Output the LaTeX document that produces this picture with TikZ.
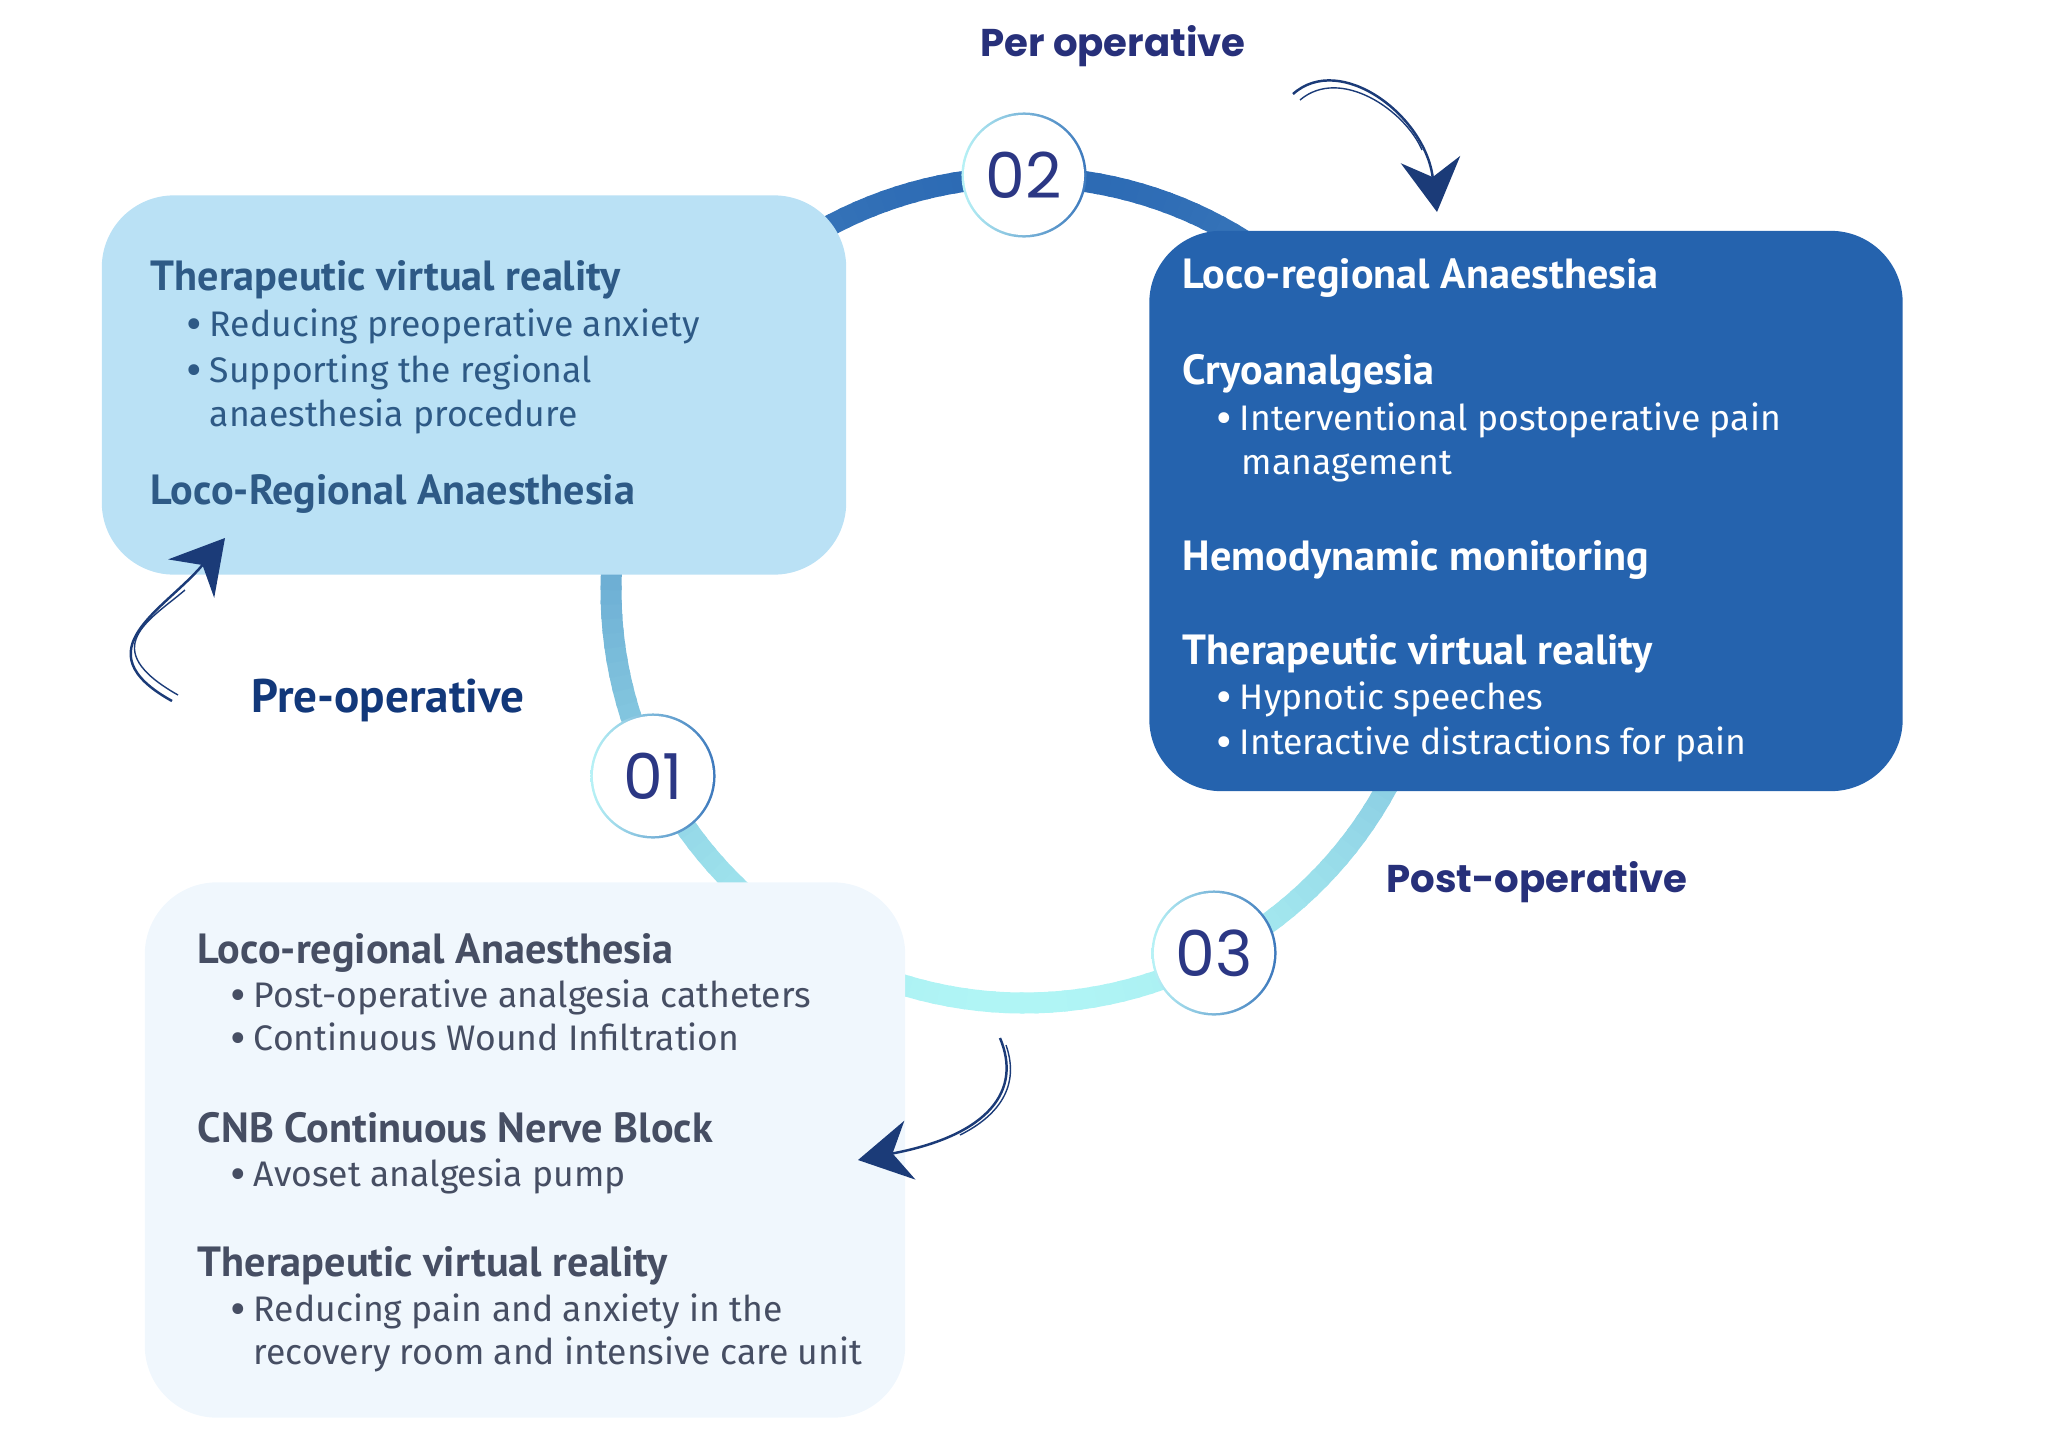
\documentclass[tikz,border=0pt]{standalone}
\usepackage{fontspec}
\setmainfont{Fira Sans}
\newfontfamily\headfont{PT Sans}
\newfontfamily\popfont{Poppins}
\usetikzlibrary{arrows.meta}

\definecolor{ringdark}{HTML}{2C6AB4}
\definecolor{ringlight}{HTML}{B0F5F5}
\definecolor{prefill}{HTML}{BAE1F5}
\definecolor{pretext}{HTML}{2E5A86}
\definecolor{perfill}{HTML}{2563AE}
\definecolor{postfill}{HTML}{F0F7FD}
\definecolor{posttext}{HTML}{464E63}
\definecolor{numtext}{HTML}{2B3784}
\definecolor{phasec}{HTML}{27307A}
\definecolor{prephase}{HTML}{12387A}
\definecolor{scribc}{HTML}{1B3B78}
\definecolor{numA}{HTML}{B8F2F6}
\definecolor{numB}{HTML}{3C78BC}

\newcommand{\bul}{\makebox[6.6pt][l]{\raisebox{-1.3pt}{\scalebox{1.35}{\textbullet}}}}

\tikzset{
  box/.style={rectangle, rounded corners=0.72cm, inner sep=0pt},
  hd/.style={anchor=base west, inner sep=0pt, font=\headfont\bfseries\fontsize{12}{14}\selectfont},
  itm/.style={anchor=base west, inner sep=0pt, font=\fontsize{10.1}{12}\selectfont},
  numring/.style={circle, minimum size=1.25cm, inner sep=0pt, left color=numA, right color=numB},
  numdisk/.style={circle, fill=white, minimum size=1.2cm, inner sep=0pt, text=numtext, font=\popfont\fontsize{18}{20}\selectfont},
  phase/.style={inner sep=0pt, text=phasec, font=\popfont\bfseries\fontsize{11}{13}\selectfont},
  scribble/.style={draw=scribc, line width=0.7pt, -{Stealth[length=15pt, width=17pt, inset=5pt]}},
}

\begin{document}
\begin{tikzpicture}[x=0.01cm, y=-0.01cm]
    \useasboundingbox (0,0) rectangle (2048,1448);

    % ring
    \coordinate (ctr) at (1024,590);
    \foreach \a in {0,2,...,358}{
      \pgfmathsetmacro{\t}{50*(1+sin(\a))}
      \draw[line width=0.21cm, draw=ringlight!\t!ringdark] ([shift={(\a:413)}]ctr) arc[start angle=\a, delta angle=2.6, radius=413];
    }

    % boxes
    \node[box, fill=prefill, minimum width=7.44cm, minimum height=3.79cm] (pre) at (474,385) {};
    \node[box, fill=perfill, minimum width=7.53cm, minimum height=5.60cm] (per) at (1526,511) {};
    \node[box, fill=postfill, minimum width=7.60cm, minimum height=5.35cm] (post) at (525,1150) {};

    % pre-operative box
    \node[hd, text=pretext] (pre1) at (150,290) {Therapeutic virtual reality};
    \node[itm, text=pretext] (pre2) at (186,336) {\bul Reducing preoperative anxiety};
    \node[itm, text=pretext] (pre3) at (186,382) {\bul Supporting the regional};
    \node[itm, text=pretext] (pre4) at (209,426) {anaesthesia procedure};
    \node[hd, text=pretext] (pre5) at (150,504) {Loco-Regional Anaesthesia};

    % per operative box
    \node[hd, text=white] (per1) at (1182,288) {Loco-regional Anaesthesia};
    \node[hd, text=white] (per2) at (1182,384) {Cryoanalgesia};
    \node[itm, text=white] (per3) at (1216,430) {\bul Interventional postoperative pain};
    \node[itm, text=white] (per4) at (1241,474) {management};
    \node[hd, text=white] (per5) at (1182,570) {Hemodynamic monitoring};
    \node[hd, text=white] (per6) at (1182,664) {Therapeutic virtual reality};
    \node[itm, text=white] (per7) at (1216,709) {\bul Hypnotic speeches};
    \node[itm, text=white] (per8) at (1216,754) {\bul Interactive distractions for pain};

    % post-operative box
    \node[hd, text=posttext] (post1) at (197,963) {Loco-regional Anaesthesia};
    \node[itm, text=posttext] (post2) at (230,1007) {\bul Post-operative analgesia catheters};
    \node[itm, text=posttext] (post3) at (230,1050) {\bul Continuous Wound Infiltration};
    \node[hd, text=posttext] (post4) at (197,1142) {CNB Continuous Nerve Block};
    \node[itm, text=posttext] (post5) at (230,1186) {\bul Avoset analgesia pump};
    \node[hd, text=posttext] (post6) at (197,1276) {Therapeutic virtual reality};
    \node[itm, text=posttext] (post7) at (230,1321) {\bul Reducing pain and anxiety in the};
    \node[itm, text=posttext] (post8) at (253,1364) {recovery room and intensive care unit};

    % step numbers
    \node[numring] (r1) at (653,776) {};
    \node[numdisk] (n1) at (r1) {01};
    \node[numring] (r2) at (1024,175) {};
    \node[numdisk] (n2) at (r2) {02};
    \node[numring] (r3) at (1214,953) {};
    \node[numdisk] (n3) at (r3) {03};

    % phase labels
    \node[phase] (lper) at (1113,46) {Per operative};
    \node[phase, text=prephase, font=\headfont\bfseries\fontsize{13.4}{15}\selectfont] (lpre) at (388,700) {Pre-operative};
    \node[phase] (lpost) at (1537,882) {Post-operative};

    % sketchy arrows
    \coordinate (a1s) at (172,701);
    \coordinate (a1e) at (225,538);
    \draw[scribble] (a1s) .. controls (80,650) and (165,610) .. (a1e);
    \draw[scribc, line width=0.4pt] (178,695) .. controls (95,648) and (150,620) .. (185,590);

    \coordinate (a2s) at (1293,94);
    \coordinate (a2e) at (1437,212);
    \draw[scribble] (a2s) .. controls (1340,52) and (1425,115) .. (a2e);
    \draw[scribc, line width=0.4pt] (1300,100) .. controls (1340,66) and (1405,110) .. (1422,150);

    \coordinate (a3s) at (1000,1038);
    \coordinate (a3e) at (858,1160);
    \draw[scribble] (a3s) .. controls (1022,1090) and (990,1135) .. (a3e);
    \draw[scribc, line width=0.4pt] (1006,1045) .. controls (1020,1085) and (1000,1115) .. (960,1135);
\end{tikzpicture}
\end{document}
